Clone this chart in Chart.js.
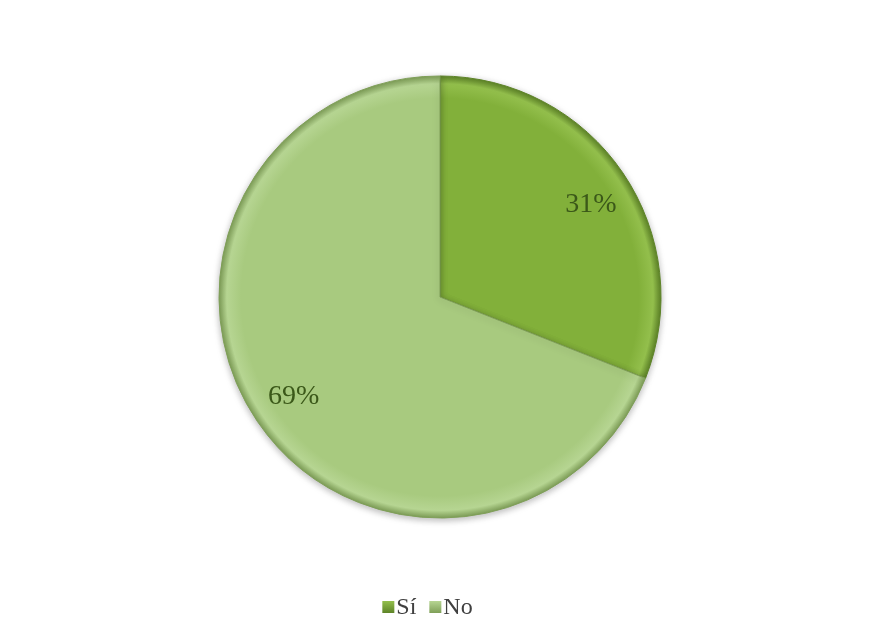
<!DOCTYPE html>
<html>
<head>
<meta charset="utf-8">
<script src="https://cdn.jsdelivr.net/npm/chart.js@4"></script>
<style>
  html, body { margin: 0; padding: 0; background: #fff; }
  #wrap { width: 871px; height: 629px; }
</style>
</head>
<body>
<div id="wrap"><canvas id="pie"></canvas></div>
<script>
const labels = ['Sí', 'No'];
const values = [31, 69];
const baseColors = ['#82b03a', '#a8ca7f'];
const rimColors = ['#93bf4c', '#b6d592'];
const edgeColors = ['#5e8428', '#7f9f58'];

const PIE_RADIUS = 221;
const SERIF = '"Liberation Serif", "Times New Roman", serif';

// bevelled radial fill, built from the chart area centre
function shade(ctx) {
  const chart = ctx.chart;
  const area = chart.chartArea;
  const i = ctx.dataIndex;
  if (!area) return baseColors[i];
  const cx = (area.left + area.right) / 2;
  const cy = (area.top + area.bottom) / 2;
  const g = chart.ctx.createRadialGradient(cx, cy, 0, cx, cy, PIE_RADIUS);
  g.addColorStop(0, baseColors[i]);
  g.addColorStop(0.9, baseColors[i]);
  g.addColorStop(0.965, rimColors[i]);
  g.addColorStop(1, edgeColors[i]);
  return g;
}

const pieShadow = {
  id: 'pieShadow',
  beforeDatasetsDraw(chart) {
    const { ctx } = chart;
    ctx.save();
    ctx.shadowColor = 'rgba(0,0,0,0.28)';
    ctx.shadowBlur = 7;
    ctx.shadowOffsetY = 2;
  },
  afterDatasetsDraw(chart) {
    chart.ctx.restore();
  }
};

const pctLabels = {
  id: 'pctLabels',
  afterDatasetsDraw(chart) {
    const { ctx } = chart;
    const meta = chart.getDatasetMeta(0);
    const total = values.reduce((a, b) => a + b, 0);
    ctx.save();
    ctx.font = '28px ' + SERIF;
    ctx.fillStyle = '#3b5819';
    ctx.textAlign = 'center';
    ctx.textBaseline = 'middle';
    meta.data.forEach((arc, i) => {
      const mid = (arc.startAngle + arc.endAngle) / 2 + (i === 0 ? 0.05 : 0);
      const r = arc.outerRadius * 0.8;
      const x = arc.x + Math.cos(mid) * r;
      const y = arc.y + Math.sin(mid) * r;
      ctx.fillText(Math.round(values[i] / total * 100) + '%', x, y);
    });
    ctx.restore();
  }
};

// compact legend: small square right next to its label
const bottomLegend = {
  id: 'bottomLegend',
  afterDraw(chart) {
    const { ctx } = chart;
    const box = 12, gapText = 2, gapItem = 13;
    const y = 607;
    ctx.save();
    ctx.font = '24px ' + SERIF;
    ctx.textBaseline = 'middle';
    const widths = labels.map(l => ctx.measureText(l).width);
    const total = widths.reduce((s, w) => s + box + gapText + w, 0) + gapItem * (labels.length - 1);
    let x = (chart.width - total) / 2 - 8;
    labels.forEach((l, i) => {
      const g = ctx.createLinearGradient(0, y - box / 2, 0, y + box / 2);
      g.addColorStop(0, rimColors[i]);
      g.addColorStop(1, edgeColors[i]);
      ctx.fillStyle = g;
      ctx.fillRect(x, y - box / 2, box, box);
      x += box + gapText;
      ctx.fillStyle = '#404040';
      ctx.fillText(l, x, y + 1);
      x += widths[i] + gapItem;
    });
    ctx.restore();
  }
};

new Chart(document.getElementById('pie'), {
  type: 'pie',
  data: {
    labels,
    datasets: [{
      data: values,
      backgroundColor: shade,
      borderColor: edgeColors,
      borderWidth: 1,
      radius: PIE_RADIUS,
    }],
  },
  options: {
    responsive: true,
    maintainAspectRatio: false,
    animation: false,
    layout: { padding: { top: 9, left: 9, right: 0, bottom: 44 } },
    plugins: {
      tooltip: { enabled: false },
      legend: { display: false },
    },
  },
  plugins: [pieShadow, pctLabels, bottomLegend],
});
</script>
</body>
</html>
